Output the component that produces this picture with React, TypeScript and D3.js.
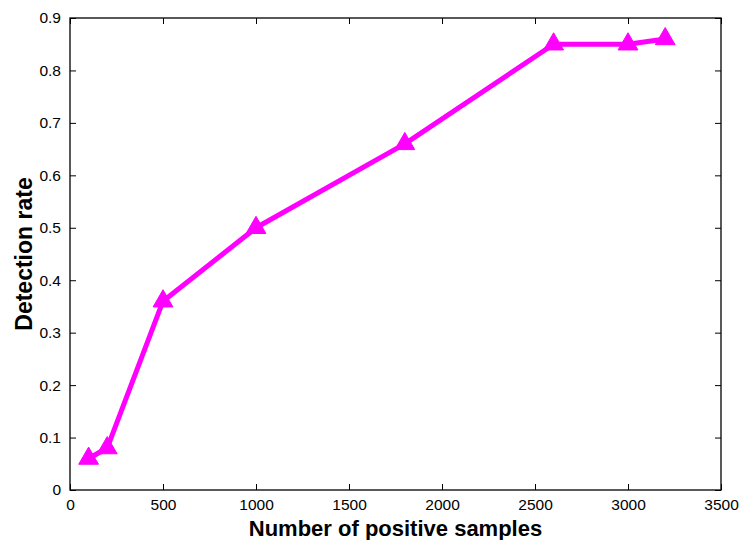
import * as d3 from "d3";
import { useEffect, useRef } from "react";

const samples = [100, 200, 500, 1000, 1800, 2600, 3000, 3200];
const detection = [0.06, 0.08, 0.36, 0.5, 0.66, 0.85, 0.85, 0.86];
const xTicks = [0, 500, 1000, 1500, 2000, 2500, 3000, 3500];
const yTicks = [0, 0.1, 0.2, 0.3, 0.4, 0.5, 0.6, 0.7, 0.8, 0.9];

export default function App() {
  const ref = useRef<SVGSVGElement>(null);

  useEffect(() => {
    if (!ref.current) return;
    const svg = d3.select(ref.current);
    svg.selectAll("*").remove();

    const width = 742,
      height = 540,
      margin = { top: 18, right: 21, bottom: 50, left: 70 };

    const x = d3.scaleLinear().domain([0, 3500]).range([margin.left, width - margin.right]);
    const y = d3.scaleLinear().domain([0, 0.9]).range([height - margin.bottom, margin.top]);
    const font = "Liberation Sans, Arial, sans-serif";
    const tickLen = 6;

    // frame
    svg.append("rect")
      .attr("x", margin.left)
      .attr("y", margin.top)
      .attr("width", width - margin.left - margin.right)
      .attr("height", height - margin.top - margin.bottom)
      .attr("fill", "white")
      .attr("stroke", "black")
      .attr("stroke-width", 1.3);

    // bottom / left axes with inward ticks
    const bottom = svg.append("g")
      .attr("transform", `translate(0, ${height - margin.bottom})`)
      .call(d3.axisBottom(x).tickValues(xTicks).tickFormat(d3.format("d")).tickSizeInner(-tickLen).tickSizeOuter(0).tickPadding(9));
    bottom.select(".domain").remove();
    bottom.selectAll("text").attr("font-size", "15.5px").attr("font-family", font).attr("fill", "black");

    const left = svg.append("g")
      .attr("transform", `translate(${margin.left}, 0)`)
      .call(d3.axisLeft(y).tickValues(yTicks).tickFormat(d3.format("~g")).tickSizeInner(-tickLen).tickSizeOuter(0).tickPadding(9));
    left.select(".domain").remove();
    left.selectAll("text").attr("font-size", "15.5px").attr("font-family", font).attr("fill", "black");

    // mirrored ticks on top / right
    const top = svg.append("g")
      .attr("transform", `translate(0, ${margin.top})`)
      .call(d3.axisTop(x).tickValues(xTicks).tickSizeInner(-tickLen).tickSizeOuter(0).tickFormat(() => ""));
    top.select(".domain").remove();

    const right = svg.append("g")
      .attr("transform", `translate(${width - margin.right}, 0)`)
      .call(d3.axisRight(y).tickValues(yTicks).tickSizeInner(-tickLen).tickSizeOuter(0).tickFormat(() => ""));
    right.select(".domain").remove();

    // line
    const pts = samples.map((s, i) => [s, detection[i]] as [number, number]);
    const line = d3.line<[number, number]>()
      .x((d) => x(d[0]))
      .y((d) => y(d[1]));

    svg.append("path")
      .datum(pts)
      .attr("fill", "none")
      .attr("stroke", "#ff00ff")
      .attr("stroke-width", 5)
      .attr("stroke-linejoin", "round")
      .attr("d", line);

    // triangle markers
    const tri = d3.symbol().type(d3.symbolTriangle).size(170);
    svg.selectAll("path.marker")
      .data(pts)
      .enter()
      .append("path")
      .attr("class", "marker")
      .attr("transform", (d) => `translate(${x(d[0])}, ${y(d[1])})`)
      .attr("d", tri)
      .attr("fill", "#ff00ff")
      .attr("stroke", "#ff00ff")
      .attr("stroke-width", 1);

    // axis labels
    svg.append("text")
      .attr("x", (margin.left + width - margin.right) / 2)
      .attr("y", 535.5)
      .attr("text-anchor", "middle")
      .attr("font-family", font)
      .attr("font-weight", "bold")
      .attr("font-size", "22px")
      .text("Number of positive samples");

    svg.append("text")
      .attr("transform", "rotate(-90)")
      .attr("x", -(margin.top + height - margin.bottom) / 2)
      .attr("y", 32)
      .attr("text-anchor", "middle")
      .attr("font-family", font)
      .attr("font-weight", "bold")
      .attr("font-size", "23px")
      .text("Detection rate");
  }, []);

  return (
    <svg
      ref={ref}
      width={742}
      height={540}
      style={{ position: "absolute", left: 0, top: 0, background: "white" }}
    />
  );
}
